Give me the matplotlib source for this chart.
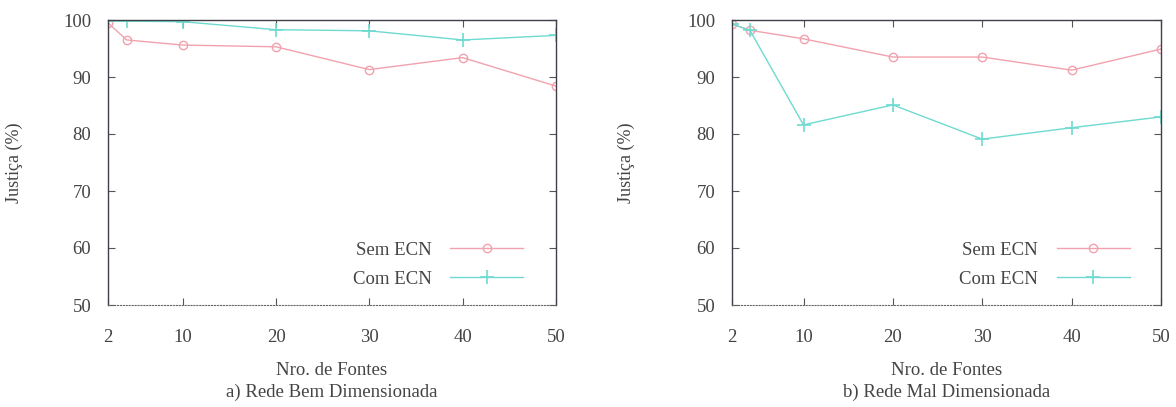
import matplotlib
matplotlib.use("Agg")
import matplotlib.pyplot as plt

# ---- data ----
fontes = [2, 4, 10, 20, 30, 40, 50]
bem_sem_ecn = [99.5, 96.5, 95.6, 95.3, 91.3, 93.4, 88.4]
bem_com_ecn = [99.8, 99.8, 99.7, 98.3, 98.1, 96.5, 97.3]
mal_sem_ecn = [99.3, 98.2, 96.7, 93.5, 93.5, 91.2, 94.9]
mal_com_ecn = [99.3, 98.2, 81.6, 85.1, 79.1, 81.1, 83.0]
xticks = [2, 10, 20, 30, 40, 50]
yticks = [50, 60, 70, 80, 90, 100]
series_labels = ["Sem ECN", "Com ECN"]
captions = ["a) Rede Bem Dimensionada", "b) Rede Mal Dimensionada"]
xlabel = "Nro. de Fontes"
ylabel = "Justiça (%)"

plt.rcParams['font.family'] = ['Liberation Serif', 'DejaVu Serif']
txt = '#444444'
c_sem = '#f2a2ae'
c_com = '#6edad0'

fig = plt.figure(figsize=(11.76, 4.07), dpi=100)
W, H = 1176, 407
def axrect(x0, x1, y0, y1):
    return [x0 / W, 1 - y1 / H, (x1 - x0) / W, (y1 - y0) / H]

axes = [fig.add_axes(axrect(108, 556, 20, 305)),
        fig.add_axes(axrect(732, 1161, 20, 305))]
data = [(bem_sem_ecn, bem_com_ecn), (mal_sem_ecn, mal_com_ecn)]
ylab_x = [-0.19, -0.225]

for ax, (sem, com), cap, yx in zip(axes, data, captions, ylab_x):
    ax.plot(fontes, sem, color=c_sem, lw=1.0, marker='o', ms=6,
            mfc='none', mec=c_sem, mew=1.0, label=series_labels[0])
    ax.plot(fontes, com, color=c_com, lw=1.0, marker='+', ms=10,
            mew=1.2, label=series_labels[1])
    ax.set_xlim(2, 50)
    ax.set_ylim(50, 100)
    ax.set_xticks(xticks)
    ax.set_yticks(yticks)
    ax.tick_params(direction='in', top=True, right=True, length=5,
                   width=0.8, colors='#555555', labelcolor=txt,
                   labelsize=13.5)
    ax.tick_params(axis='x', pad=17)
    ax.tick_params(axis='y', pad=12)
    for s in ['left', 'right', 'top']:
        ax.spines[s].set_color('#404048')
        ax.spines[s].set_linewidth(1.0)
    ax.spines['bottom'].set_linestyle(':')
    ax.spines['bottom'].set_color('#666666')
    ax.set_xlabel(xlabel, fontsize=13.5, color=txt)
    ax.xaxis.set_label_coords(0.5, -0.2)
    ax.set_ylabel(ylabel, fontsize=13, color=txt)
    ax.yaxis.set_label_coords(yx, 0.5)
    ax.text(0.5, -0.305, cap, transform=ax.transAxes, ha='center',
            va='center', fontsize=13.5, color=txt)
    leg = ax.legend(loc='lower right', bbox_to_anchor=(0.927, 0.06),
                    frameon=False, markerfirst=False, handlelength=3.9,
                    borderpad=0, borderaxespad=0, labelspacing=0.65,
                    handletextpad=1.0, fontsize=13.5)
    for t in leg.get_texts():
        t.set_color(txt)

fig.savefig("out.png", dpi=100)
